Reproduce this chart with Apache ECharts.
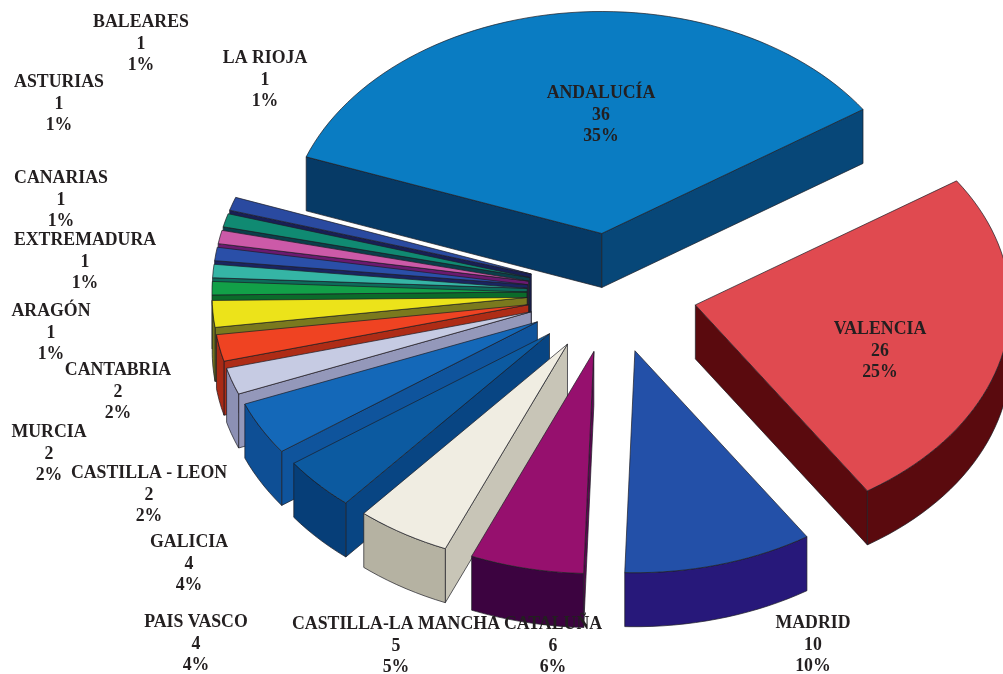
<!DOCTYPE html>
<html lang="es">
<head>
    <meta charset="UTF-8">
    <title>Comunidades autónomas</title>
    <style>
        html, body { margin: 0; padding: 0; background: #fff; }
        #container { width: 1003px; height: 674px; }
    </style>
</head>
<body>
    <div id="container"></div>
    <script src="https://cdn.jsdelivr.net/npm/echarts@6/dist/echarts.min.js"></script>
    <script>
        // datos
        const regions = ['ANDALUCÍA', 'VALENCIA', 'MADRID', 'CATALUÑA', 'CASTILLA-LA MANCHA', 'PAIS VASCO', 'GALICIA',
            'CASTILLA - LEON', 'MURCIA', 'CANTABRIA', 'ARAGÓN', 'EXTREMADURA', 'CANARIAS', 'ASTURIAS', 'BALEARES', 'LA RIOJA'];
        const counts = [36, 26, 10, 6, 5, 4, 4, 2, 2, 2, 1, 1, 1, 1, 1, 1];
        const percents = [35, 25, 10, 6, 5, 4, 4, 2, 2, 2, 1, 1, 1, 1, 1, 1];

        // colores
        const topColors = ['#0a7cc2', '#e04a50', '#2350a8', '#96106e', '#f0ede2', '#0c5aa0', '#1468b8',
            '#c6cbe3', '#ef4322', '#ece31a', '#12a048', '#35b5a5', '#2a4fa8', '#cc5aa8', '#108a72', '#2a4aa0'];
        const wallColors = ['#063a66', '#5a0a0e', '#27187a', '#3c0340', '#b5b2a2', '#063e78', '#0e4f95',
            '#8c90b4', '#a82a15', '#74741e', '#0b6b2a', '#0d6b5a', '#1a2460', '#6a1a70', '#0a3f4a', '#181f55'];

        // centro de cada rótulo (x, y de la primera línea)
        const labelPos = [[601, 83], [880, 319], [813, 613], [553, 614], [396, 614], [196, 612], [189, 532],
            [149, 463], [49, 422], [118, 360], [51, 301], [85, 230], [61, 168], [59, 72], [141, 12], [265, 48]];

        // geometría de la tarta
        const W = 1003, H = 674;
        const cx = 612, cy = 293, rx = 315, ry = 222;
        const explode = 0.27, depth = 54 / ry, startAngle = 159.8;

        const total = counts.reduce((a, b) => a + b, 0);
        const rad = d => d * Math.PI / 180;

        function angleAt(i) {
            let sum = 0;
            for (let k = 0; k < i; k++) sum += counts[k];
            return startAngle - sum / total * 360;
        }

        function renderSlice(params, api) {
            const i = params.dataIndex;
            const a0 = angleAt(i), a1 = angleAt(i + 1), mid = rad((a0 + a1) / 2);
            const ox = explode * Math.cos(mid), oy = explode * Math.sin(mid);
            const apex = [ox, oy];
            const arc = [];
            for (let a = a0; a > a1; a -= 2) arc.push([ox + Math.cos(rad(a)), oy + Math.sin(rad(a))]);
            arc.push([ox + Math.cos(rad(a1)), oy + Math.sin(rad(a1))]);

            const px = p => api.coord(p);
            const down = p => api.coord([p[0], p[1] - depth]);
            const z = Math.round((1 - Math.sin(mid)) * 100) * 10;
            const children = [];

            function wall(pts, nx, order) {
                // la cara que mira a la derecha va algo más clara
                const shade = echarts.color.lerp(Math.max(0, nx) * 0.35, [wallColors[i], topColors[i]]);
                const poly = pts.map(px).concat(pts.slice().reverse().map(down));
                children.push({
                    type: 'polygon', z2: z + order, shape: { points: poly },
                    style: { fill: shade, stroke: '#1c1c24', lineWidth: 0.7 }
                });
            }

            // caras radiales visibles
            if (Math.cos(rad(a0)) < 0) wall([apex, arc[0]], -Math.sin(rad(a0)), 0);
            if (Math.cos(rad(a1)) > 0) wall([apex, arc[arc.length - 1]], Math.sin(rad(a1)), 0);
            // borde exterior, solo la parte de delante
            const front = arc.filter(p => p[1] - oy <= 0.001);
            if (front.length > 1) wall(front, 0, 1);

            children.push({
                type: 'polygon', z2: z + 2, shape: { points: [apex].concat(arc).map(px) },
                style: { fill: topColors[i], stroke: '#1c1c24', lineWidth: 0.7 }
            });
            return { type: 'group', children: children };
        }

        const labels = regions.map((name, i) => ({
            type: 'text',
            x: labelPos[i][0],
            y: labelPos[i][1],
            z: 100,
            style: {
                text: name + '\n' + counts[i] + '\n' + percents[i] + '%',
                fill: '#231f20',
                font: 'bold 17.8px "Liberation Serif"',
                lineHeight: 21.5,
                align: 'center',
                verticalAlign: 'top'
            }
        }));

        const option = {
            animation: false,
            backgroundColor: '#ffffff',
            grid: { left: 0, right: 0, top: 0, bottom: 0 },
            // ejes ocultos: el círculo unidad se ve como elipse
            xAxis: { type: 'value', show: false, min: -cx / rx, max: (W - cx) / rx },
            yAxis: { type: 'value', show: false, min: (cy - H) / ry, max: cy / ry },
            graphic: labels,
            series: [{
                type: 'custom',
                renderItem: renderSlice,
                clip: false,
                data: regions.map((name, i) => ({ name: name, value: [i, counts[i]] }))
            }]
        };

        const chart = echarts.init(document.getElementById('container'));
        chart.setOption(option);
    </script>
</body>
</html>
